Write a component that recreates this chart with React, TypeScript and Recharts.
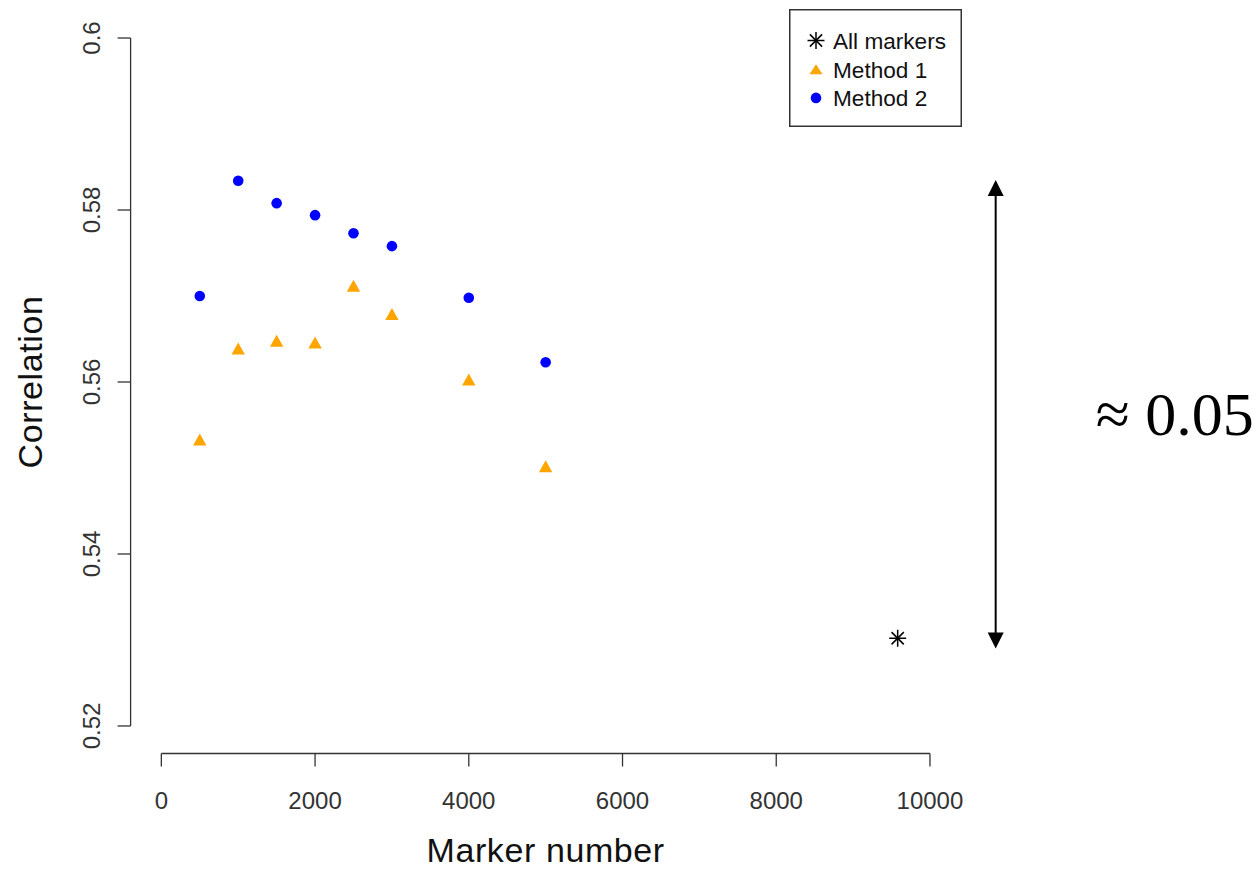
import React from 'react';
import {
  ScatterChart,
  Scatter,
  XAxis,
  YAxis,
  ReferenceLine,
  Legend,
  Label,
} from 'recharts';

// values
const markerCounts = [500, 1000, 1500, 2000, 2500, 3000, 4000, 5000];
const method1Corr = [0.5533, 0.5639, 0.5648, 0.5646, 0.5712, 0.5679, 0.5603, 0.5502];
const method2Corr = [0.57, 0.5834, 0.5808, 0.5794, 0.5773, 0.5758, 0.5698, 0.5623];
const allMarkersCount = [9580];
const allMarkersCorr = [0.5302];

const xTicks = [0, 2000, 4000, 6000, 8000, 10000];
const yTicks = [0.52, 0.54, 0.56, 0.58, 0.6];

// the "≈ 0.05" span arrow, in data units
const arrowX = 10855;
const arrowLow = 0.529;
const arrowHigh = 0.5835;
const arrowText = '≈ 0.05';

const FONT = '"Liberation Sans", Arial, sans-serif';
const AXIS = '#333';

const method1 = markerCounts.map((x, i) => ({ x, y: method1Corr[i] }));
const method2 = markerCounts.map((x, i) => ({ x, y: method2Corr[i] }));
const allMarkers = allMarkersCount.map((x, i) => ({ x, y: allMarkersCorr[i] }));

function Asterisk({ cx, cy, s = 8.5 }: { cx: number; cy: number; s?: number }) {
  const d = s * 0.72;
  return (
    <g stroke="#000" strokeWidth={1.5}>
      <line x1={cx - s} y1={cy} x2={cx + s} y2={cy} />
      <line x1={cx} y1={cy - s} x2={cx} y2={cy + s} />
      <line x1={cx - d} y1={cy - d} x2={cx + d} y2={cy + d} />
      <line x1={cx - d} y1={cy + d} x2={cx + d} y2={cy - d} />
    </g>
  );
}

function Triangle({ cx, cy, w = 6.7, h = 6 }: { cx: number; cy: number; w?: number; h?: number }) {
  return (
    <polygon
      points={`${cx},${cy - h} ${cx + w},${cy + h} ${cx - w},${cy + h}`}
      fill="#FFA500"
    />
  );
}

function Dot({ cx, cy }: { cx: number; cy: number }) {
  return <circle cx={cx} cy={cy} r={5.3} fill="#0000FF" />;
}

function LegendBox({ payload }: any) {
  const rows = (payload || []) as { value: string }[];
  return (
    <svg width={173} height={118} style={{ display: 'block' }}>
      <rect x={0.75} y={0.75} width={171.5} height={116.5} fill="#fff" stroke={AXIS} strokeWidth={1.5} />
      {rows.map((r, i) => {
        const cy = 31.5 + i * 28.7;
        let icon: React.ReactNode = null;
        if (r.value === 'All markers') icon = <Asterisk cx={27} cy={cy} s={8.5} />;
        else if (r.value === 'Method 1') icon = <Triangle cx={27} cy={cy} w={6.5} h={5} />;
        else icon = <Dot cx={27} cy={cy} />;
        return (
          <g key={r.value}>
            {icon}
            <text x={44} y={cy + 8.5} fontSize={22.6} fontFamily={FONT} fill="#111">
              {r.value}
            </text>
          </g>
        );
      })}
    </svg>
  );
}

function SpanArrow(props: any) {
  const { x1, y1, y2 } = props;
  const top = Math.min(y1, y2);
  const bottom = Math.max(y1, y2);
  const x = x1;
  return (
    <g>
      <line x1={x} y1={top + 8} x2={x} y2={bottom - 8} stroke="#000" strokeWidth={2} />
      <polygon points={`${x},${top} ${x + 8},${top + 16} ${x - 8},${top + 16}`} fill="#000" />
      <polygon points={`${x},${bottom} ${x + 8},${bottom - 16} ${x - 8},${bottom - 16}`} fill="#000" />
      <text
        x={x + 100}
        y={(top + bottom) / 2 + 21}
        fontSize={62}
        fontFamily='"Liberation Serif", "Times New Roman", serif'
        fill="#000"
      >
        {arrowText}
      </text>
    </g>
  );
}

export default function App() {
  return (
    <div style={{ position: 'absolute', left: 0, top: 0, width: 1260, height: 870, background: '#fff' }}>
      <ScatterChart
        width={1260}
        height={870}
        margin={{ top: 10.5, right: 299.3, bottom: 0, left: 0 }}
      >
        <XAxis
          type="number"
          dataKey="x"
          domain={[-400, 10400]}
          ticks={xTicks}
          axisLine={false}
          tickLine={{ stroke: AXIS, strokeWidth: 1.3 }}
          tickSize={13}
          tickMargin={0}
          height={116.5}
          interval={0}
          tick={(p: any) => (
            <text
              x={p.x}
              y={p.y + 42.5}
              textAnchor="middle"
              fontSize={24}
              fontFamily={FONT}
              fill={AXIS}
            >
              {p.payload.value}
            </text>
          )}
        >
          <Label
            content={(p: any) => {
              const vb = p.viewBox;
              return (
                <text
                  x={vb.x + vb.width / 2}
                  y={vb.y + 108}
                  textAnchor="middle"
                  fontSize={34}
                  letterSpacing={0.6}
                  fontFamily={FONT}
                  fill="#111"
                >
                  Marker number
                </text>
              );
            }}
          />
        </XAxis>
        <YAxis
          type="number"
          dataKey="y"
          domain={[0.5168, 0.6032]}
          ticks={yTicks}
          axisLine={false}
          tickLine={{ stroke: AXIS, strokeWidth: 1.3 }}
          tickSize={13}
          tickMargin={0}
          width={130.6}
          interval={0}
          tick={(p: any) => {
            const tx = p.x - 17.6;
            return (
              <text
                x={tx}
                y={p.y}
                transform={`rotate(-90, ${tx}, ${p.y})`}
                textAnchor="middle"
                fontSize={24}
                fontFamily={FONT}
                fill={AXIS}
              >
                {String(p.payload.value)}
              </text>
            );
          }}
        >
          <Label
            content={(p: any) => {
              const vb = p.viewBox;
              const cx = 41.7;
              const cy = vb.y + vb.height / 2;
              return (
                <text
                  x={cx}
                  y={cy}
                  transform={`rotate(-90, ${cx}, ${cy})`}
                  textAnchor="middle"
                  fontSize={34}
                  letterSpacing={0.6}
                  fontFamily={FONT}
                  fill="#111"
                >
                  Correlation
                </text>
              );
            }}
          />
        </YAxis>
        {/* R style detached axis lines */}
        <ReferenceLine
          segment={[{ x: 0, y: 0.5168 }, { x: 10000, y: 0.5168 }]}
          stroke={AXIS}
          strokeWidth={1.3}
          ifOverflow="visible"
        />
        <ReferenceLine
          segment={[{ x: -400, y: 0.52 }, { x: -400, y: 0.6 }]}
          stroke={AXIS}
          strokeWidth={1.3}
          ifOverflow="visible"
        />
        <ReferenceLine
          segment={[{ x: arrowX, y: arrowLow }, { x: arrowX, y: arrowHigh }]}
          ifOverflow="visible"
          shape={SpanArrow}
        />
        <Scatter
          name="All markers"
          data={allMarkers}
          isAnimationActive={false}
          shape={(p: any) => <Asterisk cx={p.cx} cy={p.cy} />}
        />
        <Scatter
          name="Method 1"
          data={method1}
          isAnimationActive={false}
          shape={(p: any) => <Triangle cx={p.cx} cy={p.cy} />}
        />
        <Scatter
          name="Method 2"
          data={method2}
          isAnimationActive={false}
          shape={(p: any) => <Dot cx={p.cx} cy={p.cy} />}
        />
        {/* middle/center alignment keeps the legend from eating plot space */}
        <Legend
          layout="horizontal"
          verticalAlign="middle"
          align="center"
          content={<LegendBox />}
          wrapperStyle={{ position: 'absolute', left: 789, top: 9, width: 173, height: 118 }}
        />
      </ScatterChart>
    </div>
  );
}
